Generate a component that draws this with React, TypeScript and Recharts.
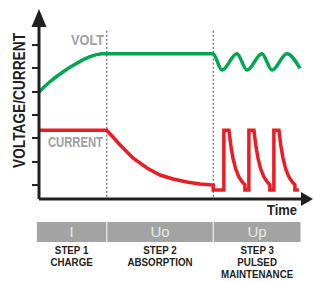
import { LineChart, Line, XAxis, YAxis, ReferenceLine } from 'recharts'

// time runs 0..100, level runs 0..100 (arbitrary units)
const voltTime = [0, 4.1, 9.1, 14.2, 19.2, 23.6, 25.5, 65.4, 68.8, 74.4, 78.2, 83.8, 87.6, 93.2, 98.1]
const voltLevel = [59.8, 65.5, 71.1, 75.8, 79.5, 81.1, 81.2, 81.2, 72, 81.2, 72, 81.2, 72, 81.2, 73]

const currentTime = [
  0, 25.5, 30.5, 35.3, 40.6, 45.5, 50.4, 55.6, 60.5, 65.5,
  65.5, 69.5, 69.5, 71.4, 72.1, 72.9, 73.9, 75.1, 76.4, 77.4, 77.4,
  78.9, 78.9, 80.8, 81.5, 82.3, 83.3, 84.5, 85.8, 86.8, 86.8,
  88.3, 88.3, 90.2, 90.9, 91.7, 92.7, 93.9, 95.2, 96.2, 96.2, 97.7,
]
const currentLevel = [
  38.4, 38.4, 30.2, 22.9, 17.3, 13.4, 11.2, 9.5, 8.4, 7.8,
  5, 5, 38.4, 38.4, 30, 23, 17, 12.5, 9.5, 8, 5,
  5, 38.4, 38.4, 30, 23, 17, 12.5, 9.5, 8, 5,
  5, 38.4, 38.4, 30, 23, 17, 12.5, 9.5, 8, 5, 5,
]

const yTicks = [7.8, 20.7, 34.1, 46.9, 59.8, 73.2, 86]
const stageBounds = [-0.8, 25.5, 65.5, 98.5]
const stageCodes = ['I', 'Uo', 'Up']
const stepTitles = ['STEP 1', 'STEP 2', 'STEP 3']
const stepNames = [['CHARGE'], ['ABSORPTION'], ['PULSED', 'MAINTENANCE']]

const voltData = voltTime.map((t, i) => ({ t, v: voltLevel[i] }))
const currentData = currentTime.map((t, i) => ({ t, v: currentLevel[i] }))

const W = 314
const H = 282
// plot area: x 39..305, y 20..199 (axes take 10px each)
const M = { top: 20, right: 9, bottom: 73, left: 29 }
const plotLeft = 39
const plotW = 266
const px = (t: number) => plotLeft + (t / 100) * plotW

const AXIS = '#231f20'
const FONT = "'Liberation Sans', Arial, Helvetica, sans-serif"

export default function App() {
  return (
    <div style={{ position: 'absolute', left: 0, top: 0, width: W, height: H, background: '#fff' }}>
      <LineChart width={W} height={H} margin={M}>
        <XAxis
          type="number"
          dataKey="t"
          domain={[0, 100]}
          height={10}
          tick={false}
          tickLine={false}
          axisLine={{ stroke: AXIS, strokeWidth: 3 }}
          allowDataOverflow
        />
        <YAxis
          type="number"
          domain={[0, 100]}
          width={10}
          ticks={yTicks}
          tickFormatter={() => ''}
          tickSize={7}
          tickLine={{ stroke: AXIS, strokeWidth: 2 }}
          axisLine={{ stroke: AXIS, strokeWidth: 3 }}
        />
        {stageBounds.slice(1, 3).map((b) => (
          <ReferenceLine
            key={b}
            segment={[{ x: b, y: 94 }, { x: b, y: 0 }]}
            stroke="#444"
            strokeWidth={1}
            strokeDasharray="2 2"
          />
        ))}
        <Line
          data={voltData}
          dataKey="v"
          type="monotone"
          stroke="#00a650"
          strokeWidth={3.5}
          dot={false}
          isAnimationActive={false}
        />
        <Line
          data={currentData}
          dataKey="v"
          type="linear"
          stroke="#ed1c24"
          strokeWidth={3.5}
          dot={false}
          isAnimationActive={false}
        />
      </LineChart>

      <svg
        width={W}
        height={H}
        style={{ position: 'absolute', left: 0, top: 0, pointerEvents: 'none' }}
        fontFamily={FONT}
      >
        {/* axis arrow heads */}
        <polygon points="39,9 31.5,27 46.5,27" fill={AXIS} />
        <polygon points="301,192 301,206 313,199" fill={AXIS} />

        <text x={71} y={45} fontSize={15} fontWeight="bold" fill="#a0a0a0" textLength={33} lengthAdjust="spacingAndGlyphs">
          VOLT
        </text>
        <text x={48} y={147} fontSize={15} fontWeight="bold" fill="#a0a0a0" textLength={55} lengthAdjust="spacingAndGlyphs">
          CURRENT
        </text>
        <text
          transform="translate(25,100.5) rotate(-90)"
          textAnchor="middle"
          fontSize={16}
          fontWeight="bold"
          fill={AXIS}
          textLength={135}
          lengthAdjust="spacingAndGlyphs"
        >
          VOLTAGE/CURRENT
        </text>
        <text x={267} y={215} fontSize={14} fontWeight="bold" fill={AXIS} textLength={30} lengthAdjust="spacingAndGlyphs">
          Time
        </text>

        {stageCodes.map((code, i) => {
          const x0 = px(stageBounds[i]) + (i > 0 ? 0.5 : 0)
          const x1 = px(stageBounds[i + 1]) - 0.5
          const cx = (x0 + x1) / 2
          return (
            <g key={code}>
              <rect x={x0} y={222} width={x1 - x0} height={20} fill="#a3a3a3" />
              <text x={cx} y={237} textAnchor="middle" fontSize={15} fill="#e8e8e8">
                {code}
              </text>
              <g transform={`translate(${cx},0) scale(0.95,1)`}>
                {[stepTitles[i], ...stepNames[i]].map((line, j) => (
                  <text key={j} x={0} y={254.5 + j * 11.6} textAnchor="middle" fontSize={10.3} fontWeight="bold" fill={AXIS}>
                    {line}
                  </text>
                ))}
              </g>
            </g>
          )
        })}
      </svg>
    </div>
  )
}
